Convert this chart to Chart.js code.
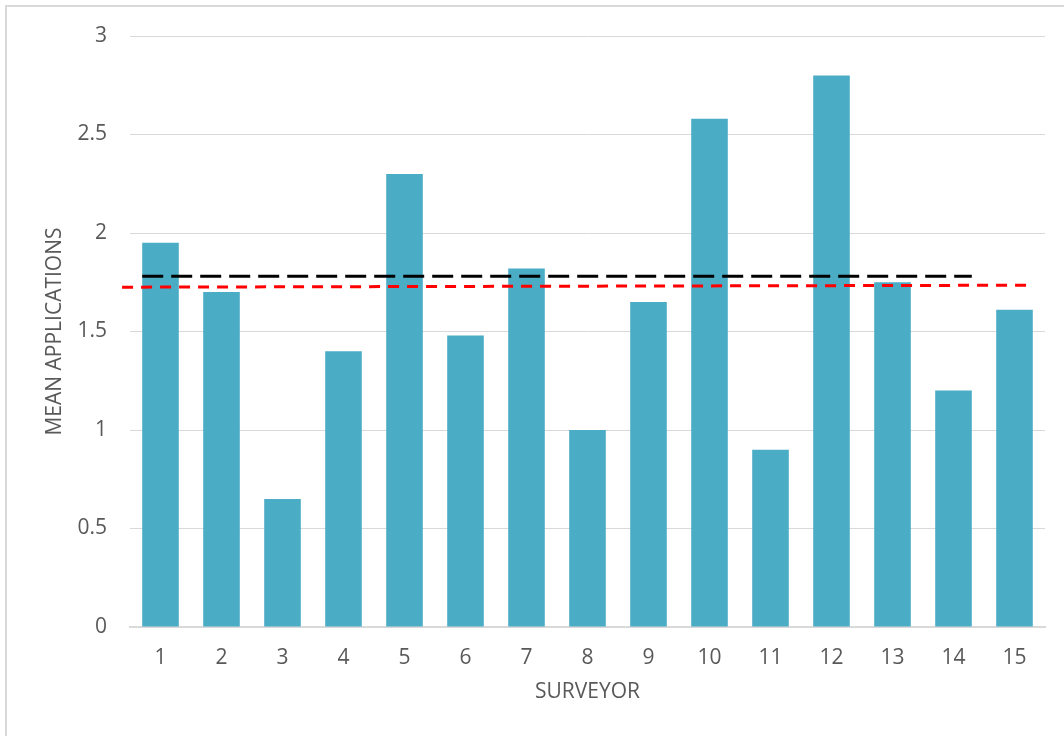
<!DOCTYPE html>
<html>
<head>
<meta charset="utf-8">
<script src="https://cdn.jsdelivr.net/npm/chart.js@4"></script>
<style>
  html, body { margin: 0; padding: 0; background: #fff; }
  #frame {
    position: absolute; left: 5px; top: 5px; width: 1100px; height: 800px;
    border: 2px solid #D9D9D9; box-sizing: border-box;
  }
  #wrap { position: absolute; left: 0; top: 0; width: 1064px; height: 736px; }
</style>
</head>
<body>
<div id="frame"></div>
<div id="wrap"><canvas id="chart"></canvas></div>
<script>
// Chart data
const surveyors = ['1', '2', '3', '4', '5', '6', '7', '8', '9', '10', '11', '12', '13', '14', '15'];
const meanApplications = [1.95, 1.70, 0.65, 1.40, 2.30, 1.48, 1.82, 1.00, 1.65, 2.58, 0.90, 2.80, 1.75, 1.20, 1.61];
const yTicks = [0, 0.5, 1, 1.5, 2, 2.5, 3];

// Reference lines (x in surveyor units, y in mean applications)
const blackLineX = [0.7, 14.3];
const blackLineY = [1.78, 1.78];
const redLineX = [0.37, 15.25];
const redLineY = [1.725, 1.735];

const textColor = '#595959';
const fontFamily = "'Open Sans', sans-serif";

function toPoints(xs, ys) {
    return xs.map((x, i) => ({ x: x, y: ys[i] }));
}

const ctx = document.getElementById('chart').getContext('2d');
new Chart(ctx, {
    type: 'bar',
    data: {
        labels: surveyors,
        datasets: [
            {
                type: 'line',
                data: toPoints(blackLineX, blackLineY),
                xAxisID: 'x2',
                borderColor: '#000000',
                borderWidth: 3,
                borderDash: [21, 8],
                pointRadius: 0,
                clip: false,
                order: 0
            },
            {
                type: 'line',
                data: toPoints(redLineX, redLineY),
                xAxisID: 'x2',
                borderColor: '#FF0000',
                borderWidth: 3,
                borderDash: [11, 8],
                pointRadius: 0,
                clip: false,
                order: 0
            },
            {
                type: 'bar',
                data: meanApplications,
                xAxisID: 'x',
                backgroundColor: '#4BACC6',
                barPercentage: 0.6,
                categoryPercentage: 1,
                grouped: false,
                order: 1
            }
        ]
    },
    options: {
        responsive: true,
        maintainAspectRatio: false,
        animation: false,
        layout: { padding: { left: 8, top: 36, right: 19, bottom: 0 } },
        plugins: { legend: { display: false }, tooltip: { enabled: false } },
        scales: {
            x: {
                type: 'category',
                grid: { display: false, drawTicks: false },
                border: { display: true, color: '#D9D9D9', width: 2 },
                ticks: { color: textColor, font: { family: fontFamily, size: 21 }, padding: 18 },
                title: {
                    display: true, text: 'SURVEYOR', color: textColor,
                    font: { family: fontFamily, size: 21 }, padding: { top: 0, bottom: 31 }
                },
                afterFit: (scale) => { scale.height = 109; }
            },
            x2: {
                type: 'linear',
                display: false,
                offset: false,
                min: 0.5,
                max: 15.5
            },
            y: {
                min: 0,
                max: 3,
                afterBuildTicks: (scale) => { scale.ticks = yTicks.map(v => ({ value: v })); },
                grid: { color: '#D9D9D9', lineWidth: 1, drawTicks: false },
                border: { display: false },
                ticks: {
                    color: textColor, font: { family: fontFamily, size: 21 }, padding: 23,
                    callback: (value) => String(value)
                },
                title: {
                    display: true, text: 'MEAN APPLICATIONS', color: textColor,
                    font: { family: fontFamily, size: 21 }, padding: { top: 34, bottom: 0 }
                },
                afterFit: (scale) => { scale.width = 122; }
            }
        }
    }
});
</script>
</body>
</html>
